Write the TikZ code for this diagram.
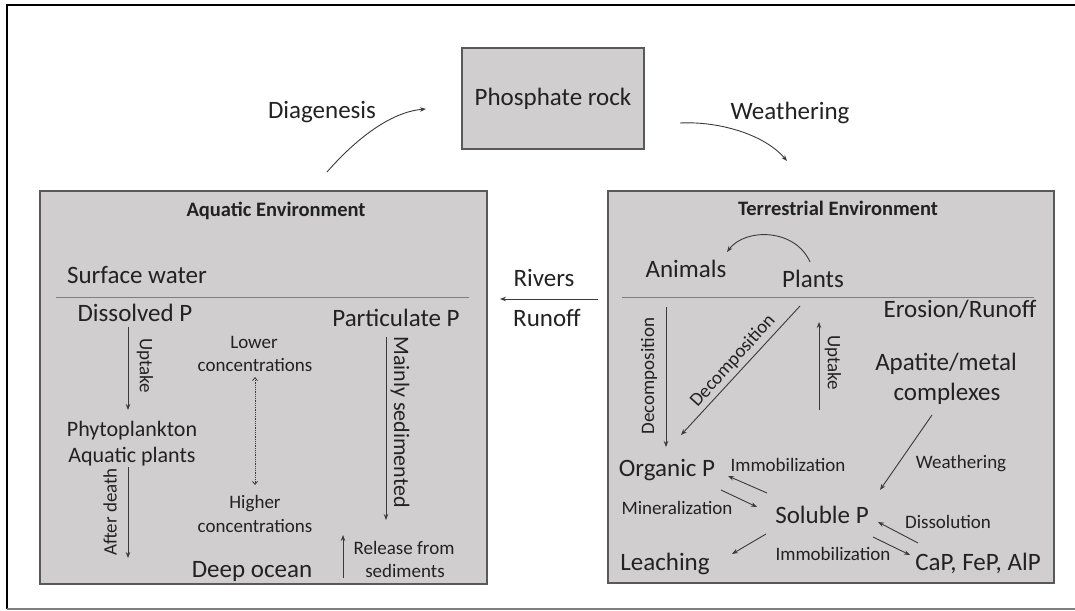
\documentclass[tikz,border=0pt]{standalone}
\usepackage{fontspec}
\setmainfont{Carlito}
\usetikzlibrary{arrows.meta}

\definecolor{txt}{HTML}{222222}
\definecolor{boxgray}{HTML}{D0CECE}
\definecolor{edge}{HTML}{595959}
\definecolor{ln}{HTML}{3A3A3A}
\definecolor{sep}{HTML}{7F7F7F}

\tikzset{
  lbl/.style={inner sep=0pt, anchor=base, text=txt, font=\fontsize{25}{30}\selectfont},
  sml/.style={lbl, font=\fontsize{19}{23}\selectfont},
  mid/.style={lbl, font=\fontsize{22}{26}\selectfont},
  ttl/.style={lbl, font=\fontsize{20.5}{24}\selectfont\bfseries},
  envbox/.style={draw=edge, fill=boxgray, line width=1.4pt, inner sep=0pt},
  arr/.style={draw=ln, line width=0.9pt, -{Stealth[length=6pt,width=4.5pt]}},
}

\begin{document}
\begin{tikzpicture}[x=1pt, y=-1pt]

        \useasboundingbox (0,0) rectangle (1075,610);

        % outer frame
        \draw[line width=2pt] (1075,5) -- (7,5) -- (7,609);
        \draw[sep, line width=1.5pt] (7,609) -- (1075,609);

        % boxes
        \node[envbox, minimum width=182pt, minimum height=101pt, text=txt,
              font=\fontsize{25}{30}\selectfont] (rock) at (553,98.5) {Phosphate rock};
        \node[envbox, minimum width=447pt, minimum height=393pt] (aqua) at (263.5,387.5) {};
        \node[envbox, minimum width=446pt, minimum height=392pt] (terr) at (831,387) {};

        \draw[sep, line width=0.8pt] (aqua.west |- 0,297) ++(17,0) coordinate (sepA) -- ++(413,0);
        \draw[sep, line width=0.8pt] (terr.west |- 0,297) ++(15,0) coordinate (sepT) -- ++(412,0);

        % cycle labels
        \node[lbl] (diag) at (322,118) {Diagenesis};
        \node[lbl] (weat) at (790,119) {Weathering};
        \node[lbl] (rivers) at (544,286) {Rivers};
        \node[lbl] (runoff) at (547,326) {Runoff};

        % aquatic environment
        \node[ttl] (ttlA) at (276,216) {Aquatic Environment};
        \node[lbl] (surf) at (137,283) {Surface water};
        \node[lbl] (dissp) at (135,321) {Dissolved P};
        \node[lbl] (partp) at (396,326) {Particulate P};
        \node[mid] (phyto) at (132,436) {Phytoplankton};
        \node[mid] (aqpl) at (132,462) {Aquatic plants};
        \node[sml] (low1) at (254,348) {Lower};
        \node[sml] (low2) at (255,371) {concentrations};
        \node[sml] (high1) at (255,508) {Higher};
        \node[sml] (high2) at (255,532) {concentrations};
        \node[lbl] (deep) at (252,577) {Deep ocean};
        \node[sml] (rel1) at (404,554) {Release from};
        \node[sml] (rel2) at (405,577) {sediments};
        \node[sml, anchor=center, rotate=-90] (uptA) at (145,366) {Uptake};
        \node[sml, anchor=center, rotate=90] (death) at (110,512) {After death};
        \node[mid, anchor=center, rotate=-90] (sedi) at (400,422) {Mainly sedimented};

        % terrestrial environment
        \node[ttl] (ttlT) at (838,215) {Terrestrial Environment};
        \node[lbl] (animals) at (686,277) {Animals};
        \node[lbl] (plants) at (813,287) {Plants};
        \node[lbl] (eros) at (960,317) {Erosion/Runoff};
        \node[sml, anchor=center, rotate=90] (decV) at (649,376) {Decomposition};
        \node[sml, anchor=center, rotate=48] (decD) at (733,361) {Decomposition};
        \node[sml, anchor=center, rotate=-90] (uptT) at (833,363) {Uptake};
        \node[lbl] (apat1) at (946,370) {Apatite/metal};
        \node[lbl] (apat2) at (947,400) {complexes};
        \node[sml] (weaT) at (961,468) {Weathering};
        \node[lbl] (orgp) at (667,476) {Organic P};
        \node[sml] (immU) at (788,471) {Immobilization};
        \node[sml] (mine) at (677,514) {Mineralization};
        \node[lbl] (solp) at (822,523) {Soluble P};
        \node[sml] (diss) at (948,528) {Dissolution};
        \node[sml] (immL) at (833,560) {Immobilization};
        \node[lbl] (leach) at (665,570) {Leaching};
        \node[lbl] (cafe) at (978,570) {CaP, FeP, AlP};

        % arrow ends
        \foreach \n/\x/\y in {dgA/327/172, dgB/426/109, wtA/680/123, wtB/787/161,
                              rvA/598/299, rvB/500/299,
                              upA/128/327, upB/128/410, adA/128/467, adB/128/558,
                              dtA/255/377, dtB/255/485, msA/386/337, msB/386/520,
                              rlA/343/578, rlB/343/535,
                              anA/810/262, anB/727/252,
                              dvA/666/307, dvB/666/447, ddA/800/306, ddB/681/435,
                              utA/819/410, utB/819/322, waA/932/415, waB/880/490,
                              imA/767/493, imB/728/476, mnA/721/490, mnB/757/507,
                              dsA/918/543, dsB/878/522, ilA/873/537, ilB/910/555,
                              lcA/766/534, lcB/732/554} {
          \coordinate (\n) at (\x,\y);
        }

        % straight arrows
        \foreach \a/\b in {rvA/rvB, upA/upB, adA/adB, msA/msB, rlA/rlB,
                           dvA/dvB, ddA/ddB, utA/utB, waA/waB, imA/imB,
                           mnA/mnB, dsA/dsB, ilA/ilB, lcA/lcB} {
          \draw[arr] (\a) -- (\b);
        }

        % curved arrows
        \draw[arr] (dgA) .. controls (355,140) and (390,112) .. (dgB);
        \draw[arr] (wtA) .. controls (720,121) and (765,135) .. (wtB);
        \draw[arr] (anA) .. controls (795,228) and (745,228) .. (anB);

        % gradient in the water column
        \draw[ln, line width=0.8pt, densely dotted,
              {Straight Barb[length=3pt,width=5pt]}-{Straight Barb[length=3pt,width=5pt]}] (dtA) -- (dtB);

      \end{tikzpicture}
\end{document}
